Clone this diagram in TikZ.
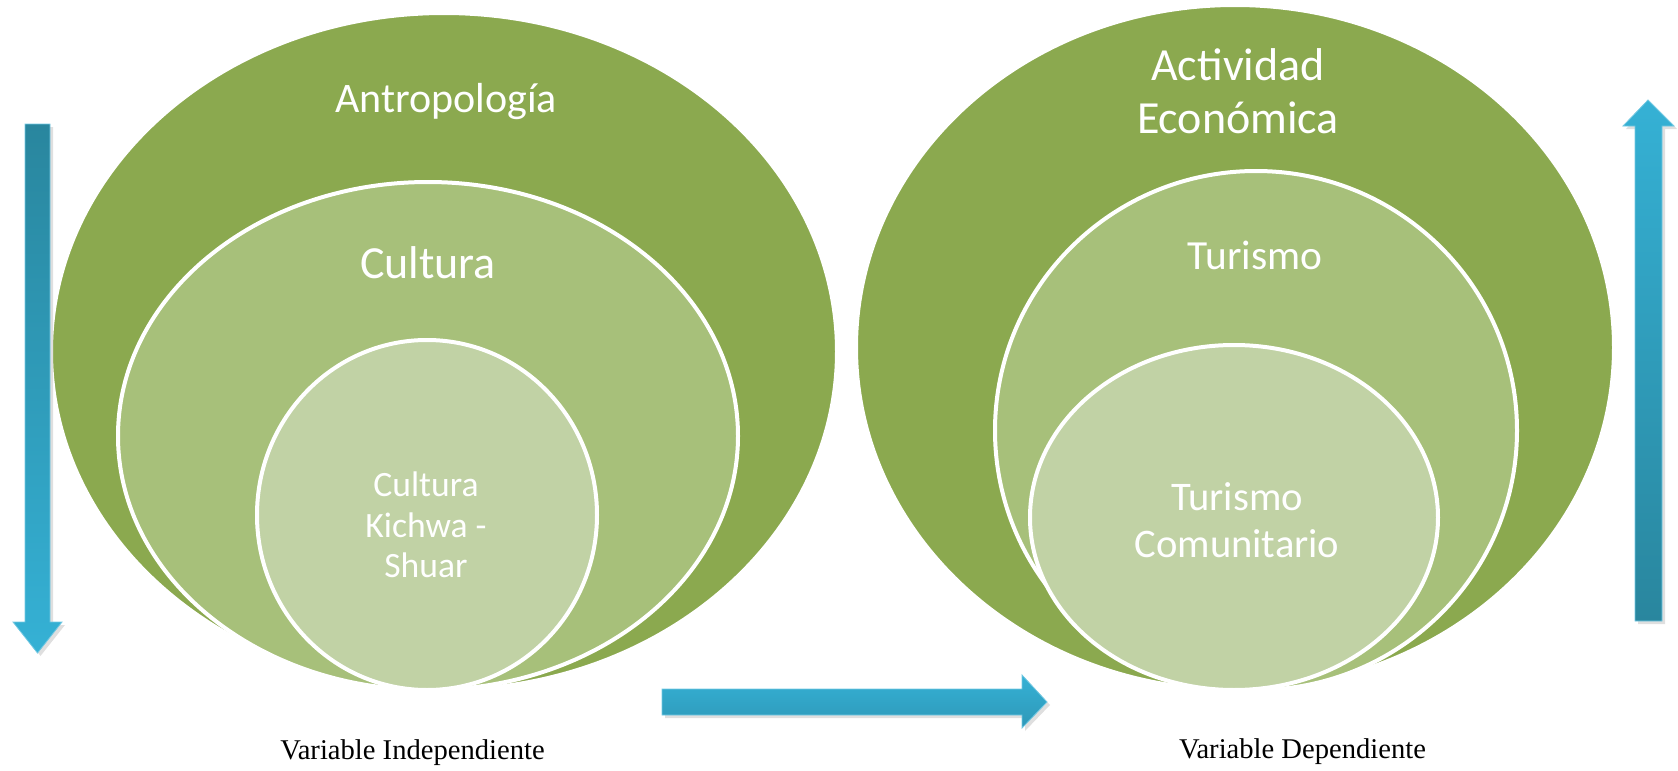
\documentclass[tikz,border=0pt]{standalone}
\usepackage{fontspec}
\setmainfont{Liberation Serif}
\newfontfamily\calibri{Carlito}
\usepackage{tikz}
\usetikzlibrary{shapes.geometric,shadows}
\definecolor{olivedark}{RGB}{139,169,79}
\definecolor{olivemid}{RGB}{167,192,122}
\definecolor{olivelight}{RGB}{193,210,165}
\definecolor{tealdark}{RGB}{41,134,158}
\definecolor{tealmid}{RGB}{46,152,184}
\definecolor{teallight}{RGB}{53,177,213}

\begin{document}
\begin{tikzpicture}[x=0.5pt, y=-0.5pt,
            ring/.style = {ellipse, draw=white, line width=2pt, inner sep=0pt},
            outer/.style = {ring, fill=olivedark},
            middle/.style = {ring, fill=olivemid},
            inner/.style = {ring, fill=olivelight},
            lbl/.style = {text=white, align=center, inner sep=0pt},
            varlbl/.style = {font=\fontsize{14.3}{16}\selectfont, anchor=base, inner sep=0pt},
            blockarrow/.style = {draw=teallight!70!white, line width=0.4pt,
              drop shadow={opacity=0.25, shadow xshift=1.5pt, shadow yshift=-1.5pt}}]
            \useasboundingbox (0,0) rectangle (1678,771);
            % Rings
            \node[outer, minimum width=393pt, minimum height=338.5pt] (antro) at (444,351.5) {};
            \node[middle, minimum width=310pt, minimum height=254pt] (cult) at (428,436) {};
            \node[inner, minimum width=170pt, minimum height=175pt] (kichwa) at (427,515) {};
            \node[outer, minimum width=379pt, minimum height=342.5pt] (activ) at (1235,347.5) {};
            \node[middle, minimum width=261pt, minimum height=259.5pt] (turismo) at (1256,430.5) {};
            \node[inner, minimum width=204pt, minimum height=172.5pt] (comun) at (1234,517.5) {};
            % Texts
            \node[lbl, anchor=base, font=\calibri\fontsize{21}{25}\selectfont] (tantro) at (446,112.7) {Antropología};
            \node[lbl, anchor=base, font=\calibri\fontsize{23}{27}\selectfont] (tcult) at (428,278) {Cultura};
            \node[lbl, font=\calibri\fontsize{17.8}{20.2}\selectfont] (tkichwa) at (426,525) {Cultura\\Kichwa -\\Shuar};
            \node[lbl, font=\calibri\fontsize{23}{26.5}\selectfont] (tactiv) at (1238,91) {Actividad\\Económica};
            \node[lbl, anchor=base, font=\calibri\fontsize{20.7}{24}\selectfont] (tturismo) at (1255,269) {Turismo};
            \node[lbl, font=\calibri\fontsize{20.3}{23.3}\selectfont] (tcomun) at (1237,520) {Turismo\\Comunitario};
            \node[varlbl] (indep) at (412.5,759) {Variable Independiente};
            \node[varlbl] (dep) at (1302.5,758) {Variable Dependiente};
            % Arrows
            \path[blockarrow, top color=tealdark, bottom color=teallight]
              (25,124) -- (50,124) -- (50,622) -- (62,622) -- (37.5,653) -- (13,622) -- (25,622) -- cycle;
            \path[blockarrow, top color=teallight, bottom color=tealmid]
              (662,689) -- (1022,689) -- (1022,675) -- (1047,702) -- (1022,728) -- (1022,715) -- (662,715) -- cycle;
            \path[blockarrow, top color=teallight, bottom color=tealdark]
              (1635,621) -- (1635,126) -- (1623,126) -- (1648,100) -- (1674,126) -- (1662,126) -- (1662,621) -- cycle;
\end{tikzpicture}
\end{document}
